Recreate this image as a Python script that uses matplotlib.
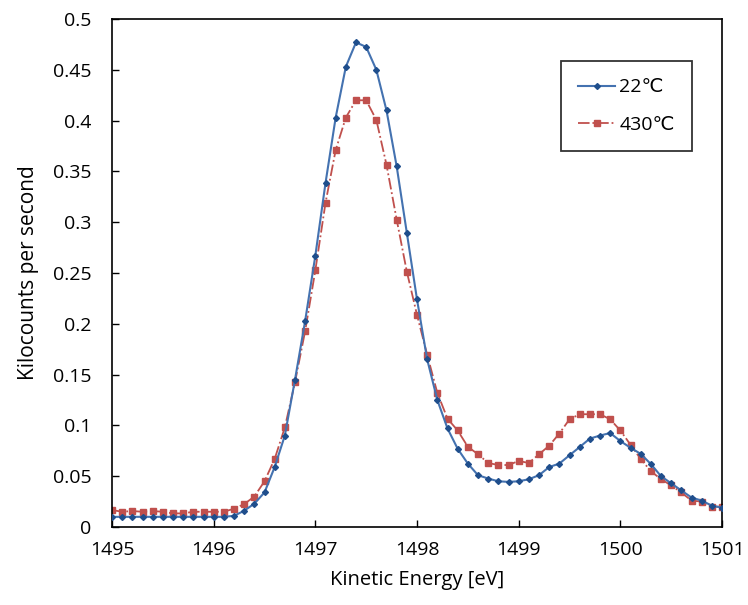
import numpy as np
import matplotlib
matplotlib.use("Agg")
import matplotlib.pyplot as plt

plt.rcParams['font.family'] = ['Open Sans', 'DejaVu Sans']

energy = [round(1495.0 + 0.1 * i, 1) for i in range(61)]

counts_22 = [0.010, 0.010, 0.010, 0.010, 0.010, 0.010, 0.010, 0.010, 0.010, 0.010,
             0.010, 0.010, 0.011, 0.016, 0.023, 0.034, 0.059, 0.090, 0.145, 0.203,
             0.267, 0.3385, 0.403, 0.453, 0.477, 0.4725, 0.450, 0.410, 0.355, 0.2895,
             0.224, 0.165, 0.125, 0.097, 0.077, 0.0624, 0.051, 0.0477, 0.045, 0.0444,
             0.045, 0.047, 0.051, 0.059, 0.0624, 0.0706, 0.0787, 0.087, 0.090, 0.0925,
             0.0846, 0.078, 0.072, 0.062, 0.050, 0.043, 0.036, 0.029, 0.026, 0.021,
             0.019]

counts_430 = [0.0167, 0.015, 0.0157, 0.015, 0.0157, 0.015, 0.0134, 0.0134, 0.015, 0.015,
              0.015, 0.015, 0.018, 0.0225, 0.030, 0.045, 0.067, 0.098, 0.1425, 0.193,
              0.2526, 0.319, 0.371, 0.403, 0.420, 0.420, 0.4007, 0.3565, 0.3026, 0.2513,
              0.2088, 0.1696, 0.132, 0.1066, 0.095, 0.079, 0.0716, 0.063, 0.061, 0.061,
              0.065, 0.063, 0.0716, 0.080, 0.092, 0.106, 0.111, 0.111, 0.111, 0.106,
              0.095, 0.081, 0.067, 0.055, 0.047, 0.041, 0.034, 0.026, 0.025, 0.020,
              0.020]

labels = ['22℃', '430℃']
x_ticks = [1495, 1496, 1497, 1498, 1499, 1500, 1501]
y_ticks = [0, 0.05, 0.1, 0.15, 0.2, 0.25, 0.3, 0.35, 0.4, 0.45, 0.5]
y_tick_labels = ['0', '0.05', '0.1', '0.15', '0.2', '0.25', '0.3', '0.35', '0.4', '0.45', '0.5']

fig = plt.figure(figsize=(7.48, 6.05), dpi=100)
ax = fig.add_axes([112 / 748, 1 - 527 / 605, (722 - 112) / 748, (527 - 19) / 605])

ax.plot(energy, counts_430, color='#c0504d', linestyle='-.', linewidth=1.3,
        marker='s', markersize=4.5, markerfacecolor='#c0504d', markeredgecolor='#c0504d',
        label=labels[1], zorder=2)
ax.plot(energy, counts_22, color='#4472b0', linestyle='-', linewidth=1.5,
        marker='D', markersize=3.0, markerfacecolor='#1f4e8c', markeredgecolor='#1f4e8c',
        label=labels[0], zorder=3)

ax.set_xlim(1495, 1501)
ax.set_ylim(0, 0.5)
ax.set_xticks(x_ticks)
ax.set_xticklabels([str(t) for t in x_ticks])
ax.set_yticks(y_ticks)
ax.set_yticklabels(y_tick_labels)
ax.tick_params(direction='in', length=5, width=1, labelsize=14, colors='black')
ax.tick_params(axis='y', pad=15)
ax.tick_params(axis='x', pad=10)
for s in ax.spines.values():
    s.set_linewidth(1.2)
    s.set_color('black')

ax.set_xlabel('Kinetic Energy [eV]', fontsize=14.5, labelpad=8)
ax.set_ylabel('Kilocounts per second', fontsize=15, labelpad=10)

handles, lbls = ax.get_legend_handles_labels()
leg = ax.legend(handles[::-1], lbls[::-1], loc='upper right',
                bbox_to_anchor=(692 / 748, 1 - 61 / 605), bbox_transform=fig.transFigure,
                frameon=True, fancybox=False, edgecolor='black', fontsize=14,
                handlelength=1.9, labelspacing=1.0, borderpad=0.9, markerscale=1.0,
                handletextpad=0.2, borderaxespad=0)
leg.get_frame().set_linewidth(1.3)

fig.savefig('out.png', dpi=100, facecolor='white')
